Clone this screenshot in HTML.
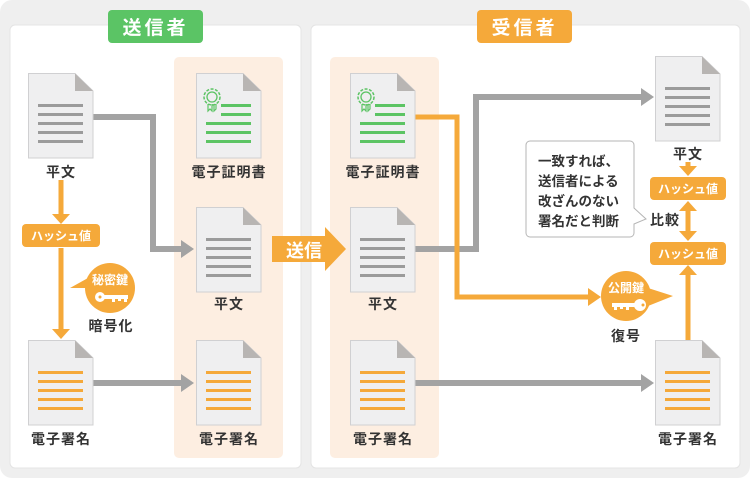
<!DOCTYPE html>
<html><head><meta charset="utf-8"><style>
body{margin:0;background:#fff;}
svg text{font-family:"Liberation Sans","Noto Sans CJK JP",sans-serif;font-weight:bold;}
</style></head><body>
<svg width="750" height="478" viewBox="0 0 750 478" xmlns="http://www.w3.org/2000/svg">
<defs>
<g id="doc">
<path d="M0.5,0.5 H47 L65,18 V85 H0.5 Z" fill="#efeff0" stroke="#d0d0d2" stroke-width="1"/>
<path d="M47,0.5 V18 H65 Z" fill="#b8b5b3"/>
</g>
<g id="glines" fill="#9b9b9b">
<rect x="10" y="31" width="45" height="3"/><rect x="10" y="40" width="45" height="3"/><rect x="10" y="49" width="45" height="3"/><rect x="10" y="58" width="45" height="3"/><rect x="10" y="67" width="45" height="3"/>
</g>
<g id="olines" fill="#f5a93a">
<rect x="10" y="31" width="45" height="3"/><rect x="10" y="40" width="45" height="3"/><rect x="10" y="49" width="45" height="3"/><rect x="10" y="58" width="45" height="3"/><rect x="10" y="67" width="45" height="3"/>
</g>
<g id="cert">
<use href="#doc"/>
<g fill="#5cc464"><rect x="25" y="31" width="30" height="3"/><rect x="25" y="40" width="30" height="3"/><rect x="10" y="49" width="45" height="3"/><rect x="10" y="58" width="45" height="3"/><rect x="10" y="67" width="45" height="3"/></g>
<circle cx="16" cy="24" r="8" fill="none" stroke="#5cc464" stroke-width="1.5" stroke-dasharray="3 1.5"/>
<circle cx="16" cy="24" r="5" fill="none" stroke="#5cc464" stroke-width="1.3"/>
<path d="M12,31 V38 L14,36 L16,38 V31 M18,31 V38 L20,36 V31" fill="none" stroke="#5cc464" stroke-width="1.2"/>
</g>
</defs>
<rect x="0" y="0" width="750" height="478" rx="12" fill="#efefef"/>
<rect x="10" y="25" width="291" height="443" rx="5" fill="#fff" stroke="#e4e4e4"/>
<rect x="311" y="25" width="429" height="443" rx="5" fill="#fff" stroke="#e4e4e4"/>
<rect x="174" y="57" width="109" height="401" rx="5" fill="#fdeee1"/>
<rect x="330" y="57" width="109" height="401" rx="5" fill="#fdeee1"/>
<rect x="108" y="10" width="95" height="33" rx="4" fill="#5bc465"/>
<text x="155.5" y="34" font-size="19" fill="#fff" text-anchor="middle" letter-spacing="3">送信者</text>
<rect x="477" y="10" width="95" height="33" rx="4" fill="#f5a93a"/>
<text x="524.5" y="34" font-size="19" fill="#fff" text-anchor="middle" letter-spacing="3">受信者</text>

<g fill="none" stroke="#a3a3a3" stroke-width="6">
<path d="M93,117 H153 V249 H183"/>
<path d="M93,383 H183"/>
<path d="M415,249 H476 V97 H643"/>
<path d="M415,383 H643"/>
</g>
<g fill="#a3a3a3">
<path d="M181,240 L194,249 L181,258Z"/><path d="M181,374 L194,383 L181,392Z"/>
<path d="M641,88 L654,97 L641,106Z"/><path d="M641,374 L654,383 L641,392Z"/>
</g>
<g fill="none" stroke="#f5a93a" stroke-width="5">
<path d="M415,117 H457 V297 H590"/>
<path d="M61,180 V216"/><path d="M61,248 V330"/>
<path d="M688,162 V168"/><path d="M688,208 V234"/><path d="M688,275 V340"/>
</g>
<g fill="#f5a93a">
<path d="M588,288 L601,297 L588,306Z"/>
<path d="M52,214 L61,224 L70,214Z"/><path d="M52,329 L61,339 L70,329Z"/>
<path d="M679,166 L688,176 L697,166Z"/>
<path d="M679,211 L688,201 L697,211Z"/><path d="M679,231 L688,241 L697,231Z"/>
<path d="M679,275 L688,265 L697,275Z"/>
<path d="M272,236 H325 V227 L346,249 L325,271 V262 H272Z"/>
</g>
<text x="304" y="257" font-size="18" fill="#fff" text-anchor="middle">送信</text>

<g transform="translate(28,73)"><use href="#doc"/><use href="#glines"/></g>
<g transform="translate(28,340)"><use href="#doc"/><use href="#olines"/></g>
<g transform="translate(196,73)"><use href="#cert"/></g>
<g transform="translate(196,207)"><use href="#doc"/><use href="#glines"/></g>
<g transform="translate(196,340)"><use href="#doc"/><use href="#olines"/></g>
<g transform="translate(350,73)"><use href="#cert"/></g>
<g transform="translate(350,207)"><use href="#doc"/><use href="#glines"/></g>
<g transform="translate(350,340)"><use href="#doc"/><use href="#olines"/></g>
<g transform="translate(655,56)"><use href="#doc"/><use href="#glines"/></g>
<g transform="translate(655,340)"><use href="#doc"/><use href="#olines"/></g>

<g font-size="14" fill="#333" text-anchor="middle" letter-spacing="1">
<text x="61" y="177">平文</text>
<text x="229" y="177">電子証明書</text>
<text x="229" y="309">平文</text>
<text x="61" y="444">電子署名</text>
<text x="229" y="444">電子署名</text>
<text x="383" y="177">電子証明書</text>
<text x="383" y="309">平文</text>
<text x="383" y="444">電子署名</text>
<text x="688" y="159">平文</text>
<text x="688" y="444">電子署名</text>
<text x="111" y="331">暗号化</text>
<text x="626" y="341">復号</text>
<text x="665" y="225">比較</text>
</g>

<rect x="22" y="224" width="78" height="23" rx="4" fill="#f5a93a"/>
<text x="61" y="240" font-size="12" fill="#fff" text-anchor="middle">ハッシュ値</text>
<rect x="650" y="177" width="76" height="23" rx="4" fill="#f5a93a"/>
<text x="688" y="193" font-size="12" fill="#fff" text-anchor="middle">ハッシュ値</text>
<rect x="650" y="242" width="76" height="23" rx="4" fill="#f5a93a"/>
<text x="688" y="258" font-size="12" fill="#fff" text-anchor="middle">ハッシュ値</text>

<circle cx="110" cy="288" r="25" fill="#f5a93a"/>
<path d="M86,288 L70,288 L88,278Z" fill="#f5a93a"/>
<text x="110" y="284" font-size="12" fill="#fff" text-anchor="middle">秘密鍵</text>
<g fill="#fff"><circle cx="100" cy="297" r="5"/><rect x="100" y="295" width="28" height="4"/><rect x="112" y="295" width="3" height="7"/><rect x="118" y="295" width="3" height="6"/><rect x="124" y="295" width="3" height="7"/></g>
<circle cx="100" cy="297" r="1.5" fill="#f5a93a"/>
<circle cx="626" cy="296" r="25" fill="#f5a93a"/>
<path d="M648,288 L673,296 L648,306Z" fill="#f5a93a"/>
<text x="626" y="292" font-size="12" fill="#fff" text-anchor="middle">公開鍵</text>
<g fill="#fff"><circle cx="640" cy="305" r="6"/><rect x="612" y="303" width="28" height="4"/><rect x="614" y="303" width="3" height="7"/><rect x="620" y="303" width="3" height="6"/><rect x="626" y="303" width="3" height="7"/></g>
<circle cx="643" cy="305" r="1.5" fill="#f5a93a"/>

<path d="M530,141 H630 a4,4 0 0 1 4,4 V208 L646,219 L634,224 V233 a4,4 0 0 1 -4,4 H530 a4,4 0 0 1 -4,-4 V145 a4,4 0 0 1 4,-4Z" fill="#fff" stroke="#b5b5b5" stroke-width="1"/>
<g font-size="13.5" fill="#333">
<text x="538" y="166">一致すれば、</text>
<text x="538" y="186">送信者による</text>
<text x="538" y="206">改ざんのない</text>
<text x="538" y="226">署名だと判断</text>
</g>
</svg>
</body></html>
